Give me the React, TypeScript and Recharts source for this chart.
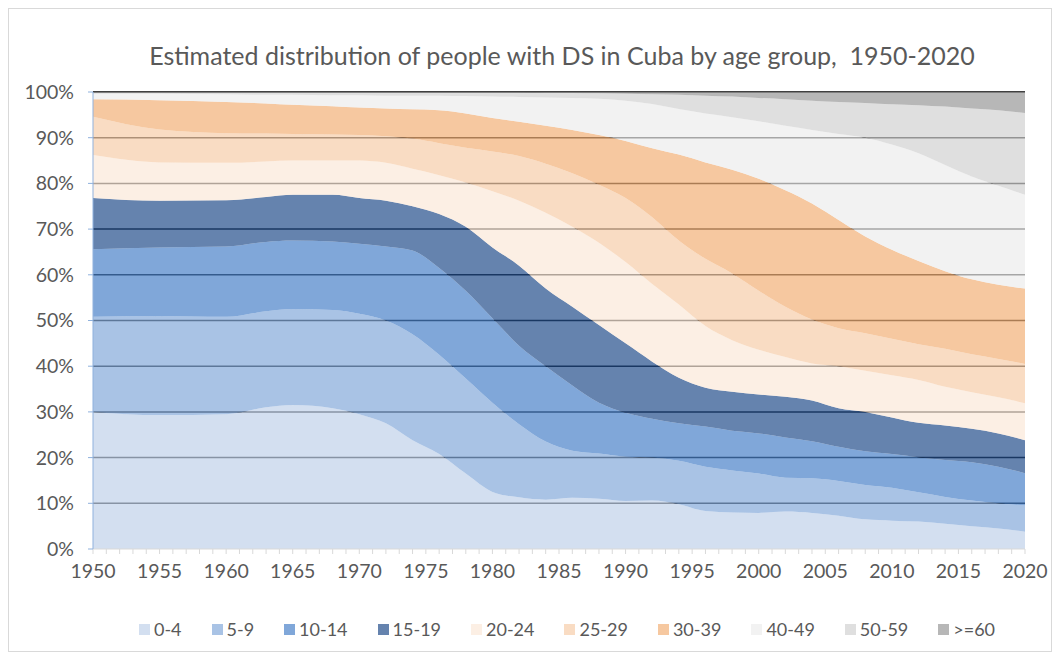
import { AreaChart, Area, XAxis, YAxis, CartesianGrid } from "recharts";

const years = [
  1950, 1955, 1960, 1963, 1965, 1968, 1970, 1972, 1974, 1976, 1978, 1980, 1982, 1984, 1986, 1988,
  1990, 1992, 1994, 1996, 1998, 2000, 2002, 2004, 2006, 2008, 2010, 2012, 2014, 2016, 2018, 2020,
];

// share of each age group, % of total
const age0to4 = [30, 29.3, 29.5, 31, 31.5, 30.8, 29.5, 27.5, 23.8, 20.8, 16.5, 12.5, 11.3, 10.8, 11.2, 11, 10.5, 10.6, 9.8, 8.3, 8, 7.9, 8.2, 7.9, 7.3, 6.5, 6.2, 6, 5.5, 5, 4.5, 3.8];
const age5to9 = [20.8, 21.7, 21.3, 21, 21, 21.5, 22, 22.5, 23.2, 21.7, 20.8, 19.5, 16, 12.7, 10.3, 9.9, 9.7, 9.4, 9.5, 9.7, 9.2, 8.6, 7.4, 7.6, 7.6, 7.5, 7.2, 6.4, 5.9, 5.6, 5.5, 5.7];
const age10to14 = [14.8, 15, 15.4, 15.2, 15, 15, 15.3, 16.2, 18.3, 19, 19.2, 18.5, 17.2, 16.5, 14.3, 11.1, 9.6, 8.5, 8.2, 8.8, 8.7, 8.8, 8.8, 8.1, 7.5, 7.4, 7.4, 7.7, 8.1, 8.4, 8, 7.1];
const age15to19 = [11.2, 10.2, 10.1, 9.8, 10, 10.2, 10, 10, 9.7, 11.8, 14, 15.5, 17.5, 17, 17.2, 17, 15.2, 12.5, 10, 8.5, 8.5, 8.5, 8.9, 8.9, 8.4, 8.6, 8, 7.5, 7.5, 7.3, 7.3, 7.2];
const age20to24 = [9.4, 8.4, 8.2, 7.8, 7.5, 7.5, 8.2, 8.3, 8.2, 8.5, 9.7, 12.3, 14.2, 16.6, 17.5, 18, 17.8, 17, 16, 13.5, 11.3, 9.8, 8.7, 8.1, 9.2, 9, 9.2, 9.4, 8.5, 8, 7.9, 8.1];
const age25to29 = [8.4, 7.2, 6.5, 6.1, 5.8, 5.7, 5.6, 5.8, 6.6, 7, 7.6, 8.7, 9.8, 10.7, 11.7, 12.7, 14, 14.6, 14, 14.7, 14.6, 12.9, 11, 9.6, 8.3, 8.2, 8, 7.8, 8.3, 8.3, 8.4, 8.6];
const age30to39 = [3.8, 6.4, 6.8, 6.6, 6.4, 6.2, 6, 6.1, 6.4, 7.2, 7.5, 7.3, 7.5, 8.3, 9.5, 10.9, 12.5, 15.1, 18.8, 21.1, 22.7, 24.5, 25.5, 25.4, 23.7, 21.2, 19.5, 18.2, 17, 16.4, 16.2, 16.5];
const age40to49 = [1.2, 1.4, 1.7, 1.9, 2.2, 2.4, 2.7, 2.8, 3, 3.2, 3.8, 4.7, 5.4, 6.2, 7, 7.9, 8.8, 9.7, 10, 10.7, 11.5, 12.6, 14.1, 16.1, 18.8, 21.6, 23, 23.6, 23.2, 22.5, 21.7, 20.5];
const age50to59 = [0.3, 0.3, 0.4, 0.5, 0.5, 0.6, 0.6, 0.7, 0.7, 0.7, 0.8, 0.9, 1, 1, 1.1, 1.2, 1.5, 2.1, 3.1, 3.9, 4.5, 5.1, 5.8, 6.4, 7, 7.6, 8.8, 10.5, 12.8, 14.9, 16.5, 17.9];
const age60plus = [0.1, 0.1, 0.1, 0.1, 0.1, 0.1, 0.1, 0.1, 0.1, 0.1, 0.1, 0.1, 0.1, 0.2, 0.2, 0.3, 0.4, 0.5, 0.6, 0.8, 1, 1.3, 1.6, 1.9, 2.2, 2.4, 2.7, 2.9, 3.2, 3.6, 4, 4.6];

const groups = ["0-4", "5-9", "10-14", "15-19", "20-24", "25-29", "30-39", "40-49", "50-59", ">=60"];
const groupValues = [age0to4, age5to9, age10to14, age15to19, age20to24, age25to29, age30to39, age40to49, age50to59, age60plus];
const colors = ["#c0d1ea", "#84a9da", "#4a81c9", "#244f8b", "#fbe8d8", "#f6cda9", "#f2b077", "#ececec", "#d1d1d1", "#989898"];

const percentTicks = [0, 10, 20, 30, 40, 50, 60, 70, 80, 90, 100];
const gridValues = [10, 20, 30, 40, 50, 60, 70, 80, 90, 100];
const yearTicks = Array.from({ length: 71 }, (_, i) => 1950 + i);

const data = years.map((year, i) => {
  const row: Record<string, number> = { year };
  groups.forEach((g, j) => {
    row[g] = groupValues[j][i];
  });
  return row;
});

const FONT = "Lato, 'Open Sans', sans-serif";
const TEXT = "#595959";

export default function App() {
  return (
    <div style={{ position: "absolute", left: 0, top: 0, width: 1060, height: 659, background: "#fff", fontFamily: FONT }}>
      <div style={{ position: "absolute", left: 8, top: 8, width: 1042, height: 642, border: "1px solid #d9d9d9" }} />
      <div
        style={{
          position: "absolute",
          left: 93,
          width: 938,
          top: 40,
          textAlign: "center",
          fontSize: 25,
          color: TEXT,
          whiteSpace: "pre",
        }}
      >
        Estimated distribution of people with DS in Cuba by age group,  1950-2020
      </div>
      <div style={{ position: "absolute", left: 0, top: 0 }}>
        <AreaChart width={1060} height={659} data={data} margin={{ top: 92, right: 35, bottom: 80, left: 0 }}>
          <CartesianGrid vertical={false} horizontalValues={gridValues} stroke="#000" strokeWidth={1.5} />
          <XAxis
            dataKey="year"
            type="number"
            domain={[1950, 2020]}
            ticks={yearTicks}
            interval={0}
            tickFormatter={(v: number) => (v % 5 === 0 ? String(v) : "")}
            axisLine={{ stroke: "#d9d9d9" }}
            tickLine={{ stroke: "#d9d9d9" }}
            tickSize={5}
            tickMargin={10}
            height={30}
            tick={{ fill: TEXT, fontSize: 19.5, fontFamily: FONT }}
          />
          <YAxis
            type="number"
            domain={[0, 100]}
            ticks={percentTicks}
            interval={0}
            tickFormatter={(v: number) => `${v}%`}
            axisLine={{ stroke: "#8fb1dd" }}
            tickLine={{ stroke: "#8fb1dd" }}
            tickSize={5}
            tickMargin={14}
            width={93}
            tick={{ fill: TEXT, fontSize: 19.5, fontFamily: FONT }}
          />
          {groups.map((g, j) => (
            <Area
              key={g}
              type="monotone"
              dataKey={g}
              stackId="1"
              stroke="none"
              fill={colors[j]}
              fillOpacity={0.7}
              isAnimationActive={false}
            />
          ))}
        </AreaChart>
      </div>
      <div
        style={{
          position: "absolute",
          left: 0,
          width: 1134,
          top: 618,
          display: "flex",
          justifyContent: "center",
          gap: 30,
          fontSize: 18,
          color: TEXT,
        }}
      >
        {groups.map((g, j) => (
          <div key={g} style={{ display: "flex", alignItems: "center" }}>
            <span style={{ width: 11, height: 11, background: colors[j], opacity: 0.7, marginRight: 4 }} />
            <span>{g}</span>
          </div>
        ))}
      </div>
    </div>
  );
}
